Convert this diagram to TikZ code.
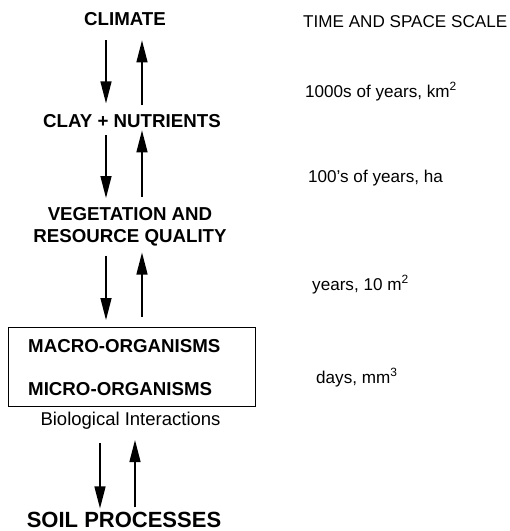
\documentclass[tikz,border=0pt]{standalone}
\usepackage{fontspec}
\setmainfont{Liberation Sans}
\usetikzlibrary{arrows.meta}
\tikzset{
    factor/.style={font=\fontsize{18.7}{22}\selectfont\bfseries, inner sep=0,
        anchor=base},
    scalelabel/.style={font=\fontsize{17.1}{20}\selectfont, inner sep=0,
        anchor=base west},
    flow/.style={-{Triangle[length=22pt, width=11pt]}, line width=1.4pt},
}

\begin{document}
\begin{tikzpicture}[x=1pt, y=-1pt]
    \useasboundingbox (0, 0) rectangle (510, 531);
    % factors, top to bottom
    \node[factor] (climate) at (125, 25) {CLIMATE};
    \node[factor] (clay) at (132, 127) {CLAY + NUTRIENTS};
    \node[factor, anchor=north, align=center] (veg) at (130, 207.4)
        {VEGETATION AND\\RESOURCE QUALITY};
    \node[draw, line width=1.2pt, minimum width=247pt, minimum height=79pt,
        anchor=north west, inner sep=0] (box) at (8, 327) {};
    \node[factor, anchor=base west] (macro) at (28, 352) {MACRO-ORGANISMS};
    \node[factor, anchor=base west] (micro) at (28, 395) {MICRO-ORGANISMS};
    \node[factor, font=\fontsize{18.5}{22}\selectfont] (bio) at (130.5, 425)
        {Biological Interactions};
    \node[factor, font=\fontsize{22}{26}\selectfont\bfseries] (soil)
        at (124, 527.5) {SOIL PROCESSES};
    % time and space scale
    \node[scalelabel] (title) at (303, 27) {TIME AND SPACE SCALE};
    \node[scalelabel] (km) at (305, 97) {1000s of years, km\textsuperscript{2}};
    \node[scalelabel] (ha) at (308, 182) {100's of years, ha};
    \node[scalelabel] (tenm) at (312, 290) {years, 10 m\textsuperscript{2}};
    \node[scalelabel] (mm) at (316, 383) {days, mm\textsuperscript{3}};
    % arrows
    \coordinate (lane1) at (106, 0);
    \coordinate (lane2) at (142, 0);
    \coordinate (lane3) at (100, 0);
    \coordinate (lane4) at (135, 0);
    \draw[flow, shorten <=15pt, shorten >=10.4pt] (climate.south -| lane1)
        -- (clay.north -| lane1);
    \draw[flow, shorten <=8.4pt, shorten >=15pt] (clay.north -| lane2)
        -- (climate.south -| lane2);
    \draw[flow, shorten <=8pt, shorten >=9.4pt] (clay.south -| lane1)
        -- (veg.north -| lane1);
    \draw[flow, shorten <=10.4pt, shorten >=3pt] (veg.north -| lane2)
        -- (clay.south -| lane2);
    \draw[flow, shorten <=9pt, shorten >=7pt] (veg.south -| lane1)
        -- (box.north -| lane1);
    \draw[flow, shorten <=10pt, shorten >=6pt] (box.north -| lane2)
        -- (veg.south -| lane2);
    \draw[flow, shorten <=14pt, shorten >=3.5pt] (bio.south -| lane3)
        -- (soil.north -| lane3);
    \draw[flow, shorten <=4.5pt, shorten >=11pt] (soil.north -| lane4)
        -- (bio.south -| lane4);
\end{tikzpicture}
\end{document}
